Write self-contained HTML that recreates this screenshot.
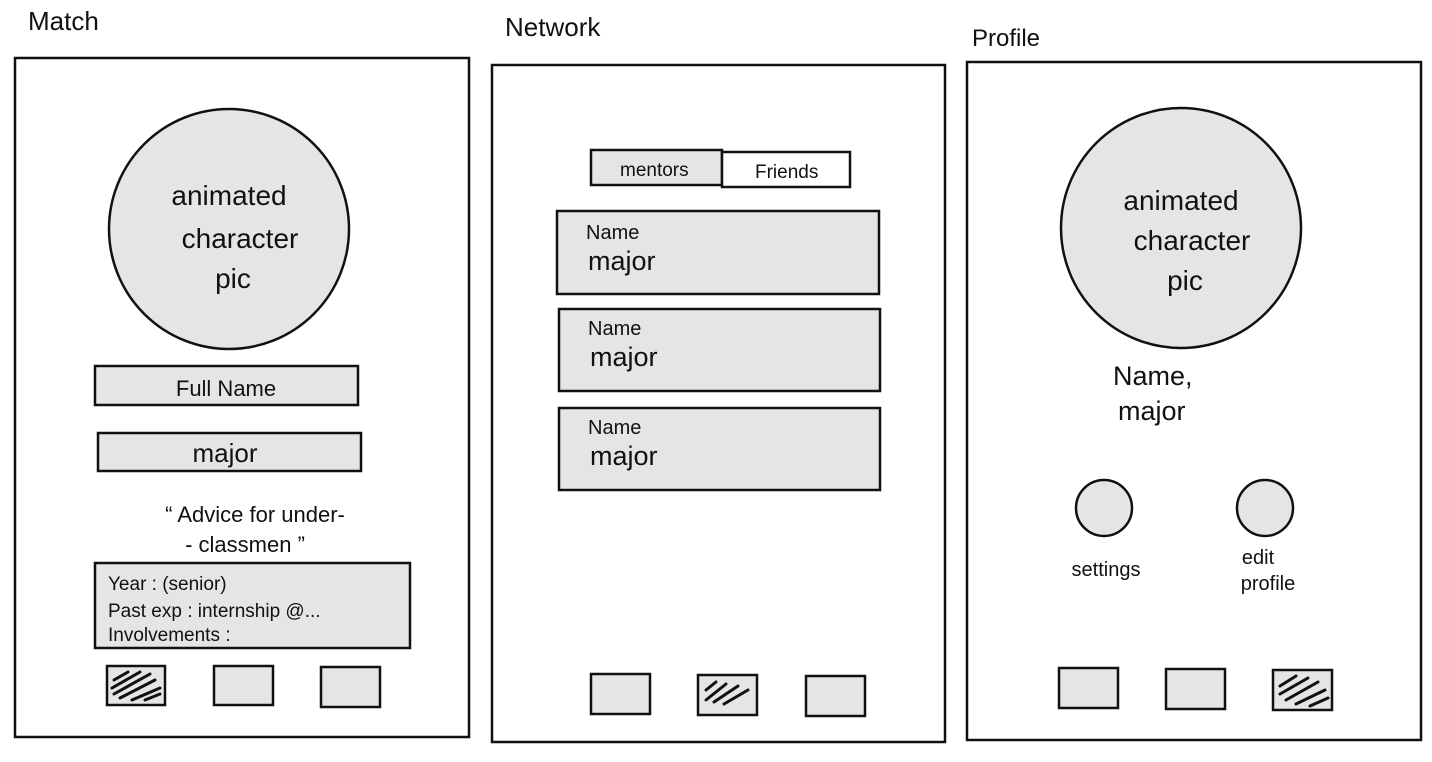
<!DOCTYPE html>
<html><head><meta charset="utf-8"><style>
html,body{margin:0;padding:0;background:#fff;}
svg text{font-family:"Liberation Sans",sans-serif;fill:#111;}
</style></head><body>
<svg width="1432" height="757" viewBox="0 0 1432 757" xmlns="http://www.w3.org/2000/svg">
<g stroke="#111" stroke-width="2.5" fill="none">
<rect x="15" y="58" width="454" height="679"/>
<rect x="492" y="65" width="453" height="677"/>
<rect x="967" y="62" width="454" height="678"/>
</g>
<g stroke="#111" stroke-width="2.5" fill="#e5e5e5">
<circle cx="229" cy="229" r="120"/>
<circle cx="1181" cy="228" r="120"/>
<rect x="95" y="366" width="263" height="39"/>
<rect x="98" y="433" width="263" height="38"/>
<rect x="95" y="563" width="315" height="85"/>
<rect x="107" y="666" width="58" height="39"/>
<rect x="214" y="666" width="59" height="39"/>
<rect x="321" y="667" width="59" height="40"/>
<rect x="591" y="150" width="131" height="35"/>
<rect x="722" y="152" width="128" height="35" fill="#fff"/>
<rect x="557" y="211" width="322" height="83"/>
<rect x="559" y="309" width="321" height="82"/>
<rect x="559" y="408" width="321" height="82"/>
<rect x="591" y="674" width="59" height="40"/>
<rect x="698" y="675" width="59" height="40"/>
<rect x="806" y="676" width="59" height="40"/>
<circle cx="1104" cy="508" r="28"/>
<circle cx="1265" cy="508" r="28"/>
<rect x="1059" y="668" width="59" height="40"/>
<rect x="1166" y="669" width="59" height="40"/>
<rect x="1273" y="670" width="59" height="40"/>
</g>
<g stroke="#111" stroke-width="3" fill="none" stroke-linecap="round">
<path d="M114 680 L128 672 M112 688 L140 672 M114 694 L150 674 M120 698 L155 680 M132 700 L160 688 M145 700 L160 694"/>
<path d="M706 690 L716 682 M706 700 L726 684 M714 702 L738 686 M724 704 L748 690"/>
<path d="M1280 686 L1296 676 M1280 694 L1308 678 M1286 700 L1318 682 M1296 704 L1325 690 M1310 706 L1328 698"/>
</g>
<g font-size="26">
<text x="28" y="30">Match</text>
<text x="505" y="36">Network</text>
<text x="972" y="46" font-size="24">Profile</text>
</g>
<g font-size="28" text-anchor="middle">
<text x="229" y="205">animated</text>
<text x="240" y="248">character</text>
<text x="233" y="288">pic</text>
<text x="1181" y="210">animated</text>
<text x="1192" y="250">character</text>
<text x="1185" y="290">pic</text>
</g>
<g font-size="22" text-anchor="middle">
<text x="226" y="396">Full Name</text>
<text x="225" y="462" font-size="26">major</text>
<text x="255" y="522">“ Advice for under-</text>
<text x="245" y="552">- classmen ”</text>
</g>
<g font-size="19">
<text x="108" y="590">Year : (senior)</text>
<text x="108" y="617">Past exp : internship @...</text>
<text x="108" y="641">Involvements :</text>
<text x="620" y="176">mentors</text>
<text x="755" y="178">Friends</text>
</g>
<g font-size="20">
<text x="586" y="239">Name</text>
<text x="588" y="335">Name</text>
<text x="588" y="434">Name</text>
</g>
<g font-size="27">
<text x="588" y="270">major</text>
<text x="590" y="366">major</text>
<text x="590" y="465">major</text>
<text x="1113" y="385">Name,</text>
<text x="1118" y="420">major</text>
</g>
<g font-size="20" text-anchor="middle">
<text x="1106" y="576">settings</text>
<text x="1258" y="564">edit</text>
<text x="1268" y="590">profile</text>
</g>
</svg>
</body></html>
